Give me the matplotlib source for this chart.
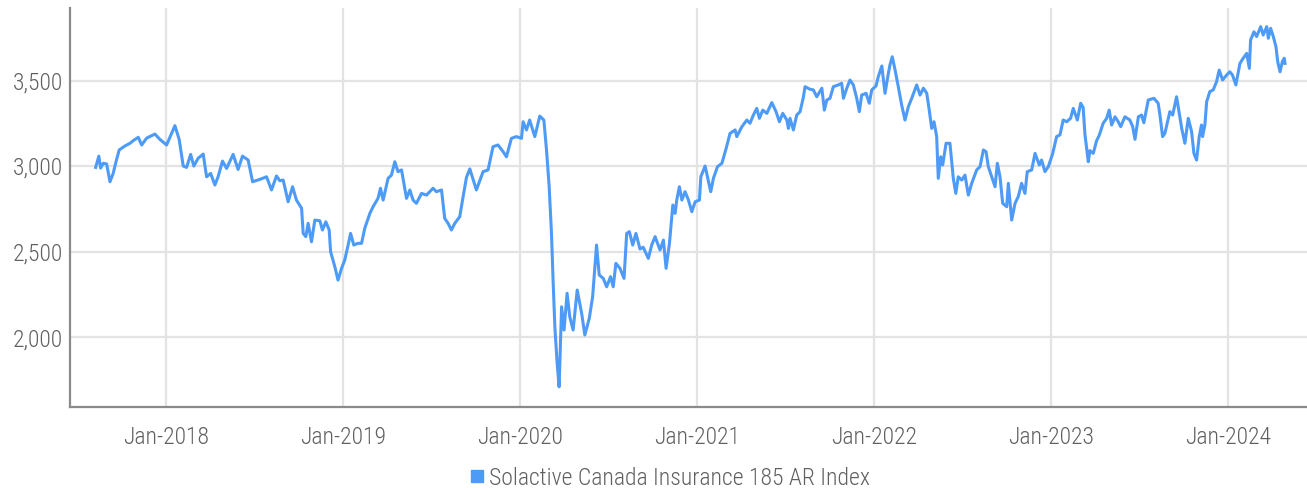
import matplotlib
matplotlib.use("Agg")
import matplotlib.pyplot as plt
import matplotlib.dates as mdates
import matplotlib.ticker as mticker
from matplotlib.lines import Line2D
import pandas as pd

# index level, dates as decimal years
years = [
    2017.603, 2017.621, 2017.631, 2017.646, 2017.665, 2017.684, 2017.702, 2017.718, 2017.736, 2017.768,
    2017.797, 2017.815, 2017.844, 2017.863, 2017.891, 2017.938, 2017.966, 2018.004, 2018.032, 2018.051,
    2018.075, 2018.098, 2018.117, 2018.140, 2018.158, 2018.182, 2018.211, 2018.230, 2018.253, 2018.277,
    2018.295, 2018.320, 2018.343, 2018.380, 2018.408, 2018.433, 2018.465, 2018.490, 2018.531, 2018.569,
    2018.597, 2018.625, 2018.644, 2018.663, 2018.691, 2018.716, 2018.738, 2018.767, 2018.776, 2018.791,
    2018.804, 2018.823, 2018.842, 2018.870, 2018.885, 2018.904, 2018.923, 2018.931, 2018.955, 2018.973,
    2018.993, 2019.011, 2019.030, 2019.044, 2019.062, 2019.086, 2019.106, 2019.124, 2019.153, 2019.171,
    2019.199, 2019.213, 2019.228, 2019.256, 2019.275, 2019.294, 2019.312, 2019.332, 2019.360, 2019.379,
    2019.397, 2019.416, 2019.445, 2019.473, 2019.510, 2019.529, 2019.558, 2019.576, 2019.595, 2019.614,
    2019.633, 2019.661, 2019.680, 2019.699, 2019.718, 2019.755, 2019.793, 2019.821, 2019.849, 2019.877,
    2019.906, 2019.925, 2019.953, 2019.981, 2020.010, 2020.019, 2020.038, 2020.056, 2020.085, 2020.113,
    2020.136, 2020.151, 2020.166, 2020.179, 2020.188, 2020.198, 2020.211, 2020.222, 2020.236, 2020.250,
    2020.267, 2020.282, 2020.301, 2020.324, 2020.349, 2020.367, 2020.392, 2020.411, 2020.433, 2020.448,
    2020.471, 2020.490, 2020.512, 2020.527, 2020.542, 2020.565, 2020.588, 2020.603, 2020.618, 2020.637,
    2020.655, 2020.678, 2020.696, 2020.725, 2020.744, 2020.763, 2020.791, 2020.810, 2020.825, 2020.844,
    2020.863, 2020.876, 2020.885, 2020.900, 2020.914, 2020.932, 2020.951, 2020.970, 2020.989, 2021.013,
    2021.021, 2021.045, 2021.077, 2021.092, 2021.115, 2021.140, 2021.164, 2021.186, 2021.215, 2021.224,
    2021.253, 2021.281, 2021.299, 2021.318, 2021.337, 2021.352, 2021.371, 2021.394, 2021.422, 2021.446,
    2021.465, 2021.484, 2021.507, 2021.516, 2021.525, 2021.544, 2021.563, 2021.582, 2021.601, 2021.610,
    2021.638, 2021.657, 2021.676, 2021.705, 2021.719, 2021.733, 2021.751, 2021.770, 2021.798, 2021.817,
    2021.827, 2021.846, 2021.864, 2021.883, 2021.902, 2021.917, 2021.930, 2021.955, 2021.973, 2021.987,
    2022.011, 2022.024, 2022.044, 2022.062, 2022.081, 2022.090, 2022.103, 2022.119, 2022.137, 2022.156,
    2022.175, 2022.194, 2022.213, 2022.241, 2022.260, 2022.279, 2022.298, 2022.312, 2022.326, 2022.339,
    2022.354, 2022.363, 2022.377, 2022.388, 2022.407, 2022.429, 2022.448, 2022.462, 2022.476, 2022.496,
    2022.514, 2022.533, 2022.552, 2022.580, 2022.599, 2022.618, 2022.633, 2022.646, 2022.665, 2022.684,
    2022.697, 2022.712, 2022.727, 2022.750, 2022.759, 2022.778, 2022.797, 2022.815, 2022.834, 2022.853,
    2022.866, 2022.891, 2022.910, 2022.934, 2022.947, 2022.966, 2022.985, 2023.010, 2023.032, 2023.051,
    2023.069, 2023.089, 2023.111, 2023.126, 2023.149, 2023.168, 2023.182, 2023.192, 2023.211, 2023.220,
    2023.239, 2023.258, 2023.273, 2023.295, 2023.315, 2023.329, 2023.343, 2023.362, 2023.380, 2023.394,
    2023.418, 2023.446, 2023.462, 2023.475, 2023.494, 2023.512, 2023.525, 2023.550, 2023.582, 2023.606,
    2023.616, 2023.631, 2023.644, 2023.657, 2023.672, 2023.688, 2023.710, 2023.725, 2023.739, 2023.757,
    2023.776, 2023.795, 2023.808, 2023.823, 2023.838, 2023.851, 2023.857, 2023.870, 2023.880, 2023.898,
    2023.917, 2023.936, 2023.951, 2023.970, 2023.993, 2024.011, 2024.026, 2024.045, 2024.068, 2024.086,
    2024.106, 2024.121, 2024.128, 2024.147, 2024.162, 2024.185, 2024.199, 2024.219, 2024.228, 2024.241,
    2024.256, 2024.271, 2024.281, 2024.294, 2024.307, 2024.318, 2024.322,
]
index_values = [
    2992, 3058, 2988, 3016, 3012, 2908, 2957, 3025, 3094, 3117,
    3133, 3148, 3168, 3123, 3163, 3187, 3156, 3123, 3191, 3236,
    3156, 3000, 2992, 3068, 3000, 3045, 3070, 2937, 2957, 2889,
    2937, 3029, 2986, 3068, 2980, 3058, 3035, 2908, 2922, 2937,
    2860, 2942, 2914, 2918, 2791, 2879, 2801, 2753, 2606, 2587,
    2665, 2557, 2684, 2680, 2626, 2674, 2626, 2499, 2411, 2333,
    2402, 2450, 2538, 2606, 2538, 2548, 2548, 2636, 2723, 2762,
    2811, 2870, 2801, 2928, 2947, 3025, 2967, 2977, 2811, 2860,
    2801, 2782, 2840, 2830, 2870, 2850, 2860, 2694, 2665, 2626,
    2665, 2704, 2821, 2934, 2983, 2860, 2967, 2977, 3113, 3123,
    3084, 3054, 3162, 3172, 3162, 3259, 3211, 3269, 3172, 3292,
    3269, 3094, 2879, 2606, 2333, 2060, 1846, 1709, 2177, 2041,
    2256, 2119, 2041, 2275, 2139, 2012, 2109, 2236, 2538, 2363,
    2343, 2294, 2353, 2294, 2431, 2402, 2343, 2606, 2616, 2538,
    2606, 2515, 2525, 2460, 2538, 2587, 2509, 2567, 2402, 2548,
    2772, 2723, 2801, 2879, 2801, 2850, 2801, 2733, 2791, 2801,
    2937, 3000, 2850, 2928, 2996, 3016, 3103, 3191, 3211, 3172,
    3230, 3269, 3250, 3298, 3337, 3279, 3327, 3308, 3371, 3318,
    3259, 3308, 3269, 3220, 3279, 3211, 3298, 3318, 3405, 3464,
    3449, 3445, 3405, 3455, 3327, 3386, 3396, 3464, 3474, 3484,
    3396, 3455, 3503, 3474, 3396, 3318, 3415, 3425, 3367, 3445,
    3468, 3522, 3585, 3425, 3542, 3591, 3639, 3561, 3464, 3357,
    3269, 3347, 3396, 3474, 3415, 3455, 3425, 3327, 3220, 3259,
    3172, 2928, 3054, 3006, 3133, 3133, 2928, 2840, 2937, 2918,
    2947, 2830, 2899, 2977, 2996, 3094, 3084, 2996, 2937, 2879,
    3016, 2937, 2782, 2762, 2899, 2684, 2782, 2821, 2899, 2840,
    2967, 2977, 3074, 3006, 3035, 2967, 2996, 3074, 3172, 3182,
    3269, 3259, 3279, 3337, 3269, 3367, 3342, 3186, 3025, 3090,
    3074, 3148, 3180, 3250, 3279, 3327, 3240, 3288, 3259, 3230,
    3288, 3269, 3230, 3156, 3288, 3298, 3253, 3386, 3396, 3367,
    3298, 3172, 3191, 3250, 3318, 3298, 3405, 3308, 3220, 3133,
    3279, 3201, 3074, 3035, 3172, 3240, 3172, 3240, 3376, 3435,
    3445, 3493, 3561, 3503, 3532, 3551, 3532, 3474, 3600, 3630,
    3659, 3571, 3737, 3785, 3757, 3815, 3766, 3815, 3747, 3805,
    3757, 3698, 3610, 3551, 3610, 3630, 3600,
]

tick_years = [2018, 2019, 2020, 2021, 2022, 2023, 2024]
y_ticks = [2000, 2500, 3000, 3500]
series_name = "Solactive Canada Insurance 185 AR Index"


def to_date(y):
    yr = int(y)
    start = pd.Timestamp(year=yr, month=1, day=1)
    span = (pd.Timestamp(year=yr + 1, month=1, day=1) - start).days
    return start + pd.Timedelta(days=(y - yr) * span)


dates = [to_date(y) for y in years]

line_color = "#4d9bf6"
text_color = "#606060"

plt.rcParams["font.family"] = ["Roboto Condensed", "Roboto", "DejaVu Sans"]
plt.rcParams["font.weight"] = "light"

fig = plt.figure(figsize=(13.07, 4.9), dpi=100)
ax = fig.add_axes([70 / 1307, 83 / 490, 1237 / 1307, 399 / 490])

ax.plot(dates, index_values, color=line_color, linewidth=2.2, zorder=3)

ax.set_xlim(to_date(2017.458), to_date(2024.446))
ax.set_ylim(1591, 3924)

ax.set_xticks([pd.Timestamp(year=y, month=1, day=1) for y in tick_years])
ax.xaxis.set_major_formatter(mdates.DateFormatter("%b-%Y"))
ax.set_yticks(y_ticks)
ax.yaxis.set_major_formatter(mticker.FuncFormatter(lambda v, p: f"{int(v):,}"))

ax.grid(True, color="#e3e3e3", linewidth=1.6, zorder=0)
ax.set_axisbelow(True)
ax.tick_params(axis="both", length=0, labelsize=17, labelcolor=text_color)
ax.tick_params(axis="x", pad=14)
ax.tick_params(axis="y", pad=5)

for side in ["top", "right"]:
    ax.spines[side].set_visible(False)
for side in ["left", "bottom"]:
    ax.spines[side].set_color("#8a8a8a")
    ax.spines[side].set_linewidth(1.6)

handle = Line2D([], [], marker="s", linestyle="", color=line_color, markersize=9)
fig.legend([handle], [series_name], loc="center", bbox_to_anchor=(669 / 1307, 1 - 478 / 490),
           frameon=False, fontsize=17, labelcolor=text_color, handletextpad=0.15, handlelength=0.7)

fig.savefig("out.png", dpi=100)
